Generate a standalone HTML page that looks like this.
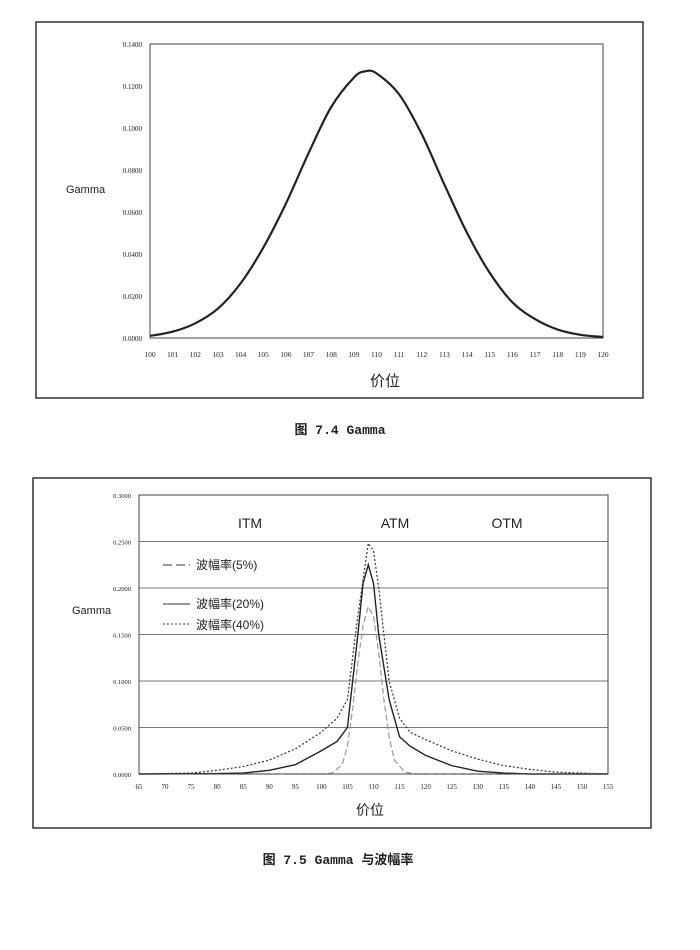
<!DOCTYPE html>
<html><head><meta charset="utf-8"><style>
body{margin:0;background:#fff;width:700px;height:945px;overflow:hidden}
svg text{font-family:"Liberation Serif","Noto Sans CJK SC",serif;fill:#222}
.s{font-family:"Liberation Sans","Noto Sans CJK SC",sans-serif!important}
.m{font-family:"Liberation Mono","Noto Sans CJK SC",monospace!important}
</style></head><body>
<svg id="svg" width="700" height="945" xmlns="http://www.w3.org/2000/svg">
<rect x="36" y="22" width="607" height="376" fill="none" stroke="#333" stroke-width="1.5"/>
<rect x="150" y="44" width="453" height="294" fill="none" stroke="#444" stroke-width="1"/>
<g id="c1"></g>
<text x="66" y="193" font-size="11" class="s">Gamma</text>
<text x="385" y="386" font-size="15" text-anchor="middle" class="s">价位</text>
<text x="340" y="434" font-size="13" text-anchor="middle" class="m" font-weight="bold">图 7.4  Gamma</text>

<rect x="33" y="478" width="618" height="350" fill="none" stroke="#333" stroke-width="1.5"/>
<g id="c2"></g>
<rect x="139" y="495" width="469" height="279" fill="none" stroke="#444" stroke-width="1"/>
<text x="72" y="614" font-size="11" class="s">Gamma</text>
<text x="250" y="528" font-size="14" text-anchor="middle" class="s">ITM</text>
<text x="395" y="528" font-size="14" text-anchor="middle" class="s">ATM</text>
<text x="507" y="528" font-size="14" text-anchor="middle" class="s">OTM</text>
<g>
<line x1="163" y1="565" x2="190" y2="565" stroke="#333" stroke-dasharray="9,4"/>
<text x="196" y="569" font-size="12" class="s">波幅率(5%)</text>
<line x1="163" y1="604" x2="190" y2="604" stroke="#333"/>
<text x="196" y="608" font-size="12" class="s">波幅率(20%)</text>
<line x1="163" y1="624" x2="190" y2="624" stroke="#333" stroke-dasharray="2,2"/>
<text x="196" y="629" font-size="12" class="s">波幅率(40%)</text>
</g>
<text x="370" y="815" font-size="14" text-anchor="middle" class="s">价位</text>
<text x="338" y="864" font-size="13" text-anchor="middle" class="m" font-weight="bold">图 7.5  Gamma 与波幅率</text>
</svg>
<script>
const c1X=[100,101,102,103,104,105,106,107,108,109,109.5,110,111,112,113,114,115,116,117,118,119,120];
const c1Y=[0.001,0.003,0.007,0.014,0.026,0.043,0.064,0.088,0.110,0.124,0.127,0.126,0.116,0.097,0.073,0.050,0.031,0.017,0.009,0.004,0.0015,0.0005];
const c1YTicks=["0.0000","0.0200","0.0400","0.0600","0.0800","0.1000","0.1200","0.1400"];
const c2X5=[65,100,102,104,105,106,107,108,109,110,111,112,113,114,116,118,155];
const c2Y5=[0,0,0.001,0.01,0.03,0.07,0.12,0.16,0.18,0.17,0.13,0.08,0.04,0.015,0.002,0,0];
const c2X20=[65,80,85,90,95,100,103,105,107,108,109,110,111,113,115,117,120,125,130,135,140,155];
const c2Y20=[0,0.0005,0.001,0.004,0.01,0.025,0.035,0.05,0.15,0.205,0.225,0.205,0.15,0.08,0.04,0.03,0.02,0.009,0.003,0.001,0,0];
const c2X40=[65,75,80,85,90,95,100,103,105,107,109,110,111,113,115,117,120,125,130,135,140,145,150,155];
const c2Y40=[0,0.001,0.004,0.008,0.015,0.027,0.045,0.06,0.08,0.17,0.248,0.24,0.2,0.1,0.06,0.045,0.037,0.025,0.016,0.009,0.005,0.002,0.001,0];
const c2YTicks=["0.0000","0.0500","0.1000","0.1500","0.2000","0.2500","0.3000"];
const NS="http://www.w3.org/2000/svg";
function mk(p,t,a){const e=document.createElementNS(NS,t);for(const k in a)e.setAttribute(k,a[k]);p.appendChild(e);return e;}
// chart1
const g1=document.getElementById('c1');
const x1=v=>150+(v-100)/20*453, y1=v=>338-v/0.14*294;
c1YTicks.forEach((t,i)=>{const e=mk(g1,'text',{x:142,y:y1(i*0.02)+3,'font-size':7,'text-anchor':'end'});e.textContent=t;

});
for(let v=100;v<=120;v++){const e=mk(g1,'text',{x:x1(v),y:357,'font-size':7.5,'text-anchor':'middle'});e.textContent=v;

}
const P=c1X.map((v,i)=>[x1(v),y1(c1Y[i])]);
let d='M'+P[0];
for(let i=0;i<P.length-1;i++){const p0=P[Math.max(i-1,0)],p1=P[i],p2=P[i+1],p3=P[Math.min(i+2,P.length-1)];
d+=` C${p1[0]+(p2[0]-p0[0])/6},${p1[1]+(p2[1]-p0[1])/6} ${p2[0]-(p3[0]-p1[0])/6},${p2[1]-(p3[1]-p1[1])/6} ${p2[0]},${p2[1]}`;}
const c1=mk(g1,'path',{d,fill:'none',stroke:'#222','stroke-width':2.2});


// chart2
const g2=document.getElementById('c2');
const x2=v=>139+(v-65)/90*469, y2=v=>774-v/0.3*279;
c2YTicks.forEach((t,i)=>{const y=y2(i*0.05);
if(i>0&&i<6){const l=mk(g2,'line',{x1:139,y1:y,x2:608,y2:y,stroke:'#777','stroke-width':1});

}
const e=mk(g2,'text',{x:131,y:y+3,'font-size':6.5,'text-anchor':'end'});e.textContent=t;

});
for(let v=65;v<=155;v+=5){const e=mk(g2,'text',{x:x2(v),y:789,'font-size':7,'text-anchor':'middle'});e.textContent=v;

}
function series(X,Y,dash,col,w,name){const pts=X.map((v,i)=>x2(v)+','+y2(Y[i])).join(' ');
const e=mk(g2,'polyline',{points:pts,fill:'none',stroke:col,'stroke-width':w,'stroke-dasharray':dash});

}
series(c2X5,c2Y5,'6,3','#999',1.2,'series-vol-5');
series(c2X40,c2Y40,'2,2','#333',1.2,'series-vol-40');
series(c2X20,c2Y20,'none','#222',1.4,'series-vol-20');
</script>
</body></html>
